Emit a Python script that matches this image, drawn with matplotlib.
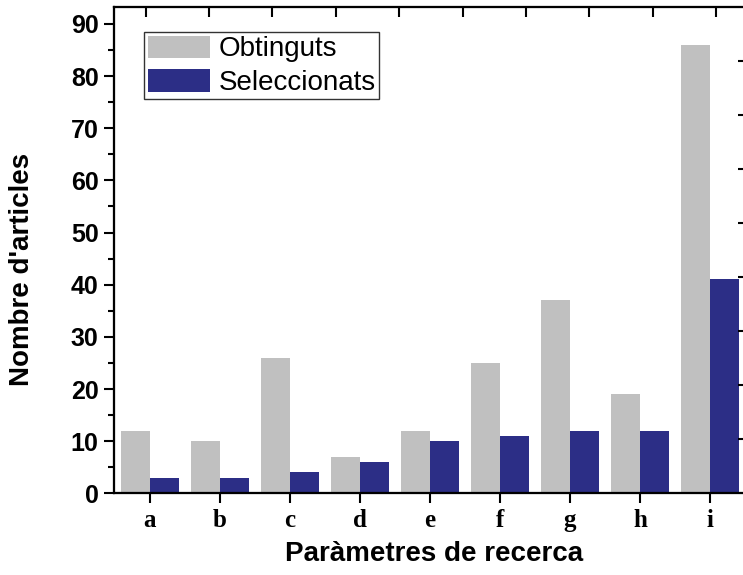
import numpy as np
import matplotlib
matplotlib.use("Agg")
import matplotlib.pyplot as plt

# Data
categories = ["a", "b", "c", "d", "e", "f", "g", "h", "i"]
obtinguts = [12, 10, 26, 7, 12, 25, 37, 19, 86]
seleccionats = [3, 3, 4, 6, 10, 11, 12, 12, 41]

gray = "#c0c0c0"
navy = "#2c2e86"

plt.rcParams["font.family"] = ["Liberation Sans", "DejaVu Sans"]

fig = plt.figure(figsize=(7.43, 5.75), dpi=100)
ax = fig.add_axes([0.1534, 0.1421, 0.8533, 0.8452])

x = np.arange(len(categories))
w = 0.414
ax.bar(x - w / 2, obtinguts, width=w, color=gray, label="Obtinguts")
ax.bar(x + w / 2, seleccionats, width=w, color=navy, label="Seleccionats")

ax.set_xlim(-0.514, 8.543)
ax.set_ylim(0, 93.2)

# left axis
ax.set_yticks(np.arange(0, 91, 10))
ax.set_yticks(np.arange(5, 90, 10), minor=True)
ax.tick_params(axis="y", which="major", direction="out", length=7, width=1.5,
               pad=4, labelsize=18)
ax.tick_params(axis="y", which="minor", direction="out", length=4, width=1.5)
for lab in ax.get_yticklabels():
    lab.set_fontweight("bold")

# bottom axis
ax.set_xticks(x)
ax.set_xticklabels(categories, fontfamily="Liberation Serif",
                   fontweight="bold", fontsize=18)
ax.tick_params(axis="x", direction="out", length=7, width=1.5, pad=4)

for s in ax.spines.values():
    s.set_linewidth(1.5)

ax.set_xlabel("Paràmetres de recerca", fontsize=20, fontweight="bold")
ax.set_ylabel("Nombre d'articles", fontsize=20, fontweight="bold")
ax.xaxis.set_label_coords(0.505, -0.098)
ax.yaxis.set_label_coords(-0.125, 0.46)

leg = ax.legend(loc="upper left", bbox_to_anchor=(0.0478, 0.9486),
                borderaxespad=0, fancybox=False, edgecolor="black",
                fontsize=20, handlelength=2.25, handleheight=0.86,
                handletextpad=0.3, labelspacing=0.25, borderpad=0.12)
leg.get_frame().set_linewidth(1.0)

# top and right axes (Origin style, unlabeled ticks pointing in)
ax_top = ax.twiny()
ax_top.set_xlim(0, 1)
ax_top.set_xticks(np.arange(0.05, 1, 0.1))
ax_top.tick_params(axis="x", direction="in", length=7, width=1.5,
                   labeltop=False)
ax_right = ax.twinx()
ax_right.set_ylim(0, 90)
ax_right.set_yticks(np.arange(10, 90, 10))
ax_right.tick_params(axis="y", direction="in", length=7, width=1.5,
                     labelright=False)
for a in (ax_top, ax_right):
    for s in a.spines.values():
        s.set_linewidth(1.5)

fig.savefig("out.png", dpi=100)
